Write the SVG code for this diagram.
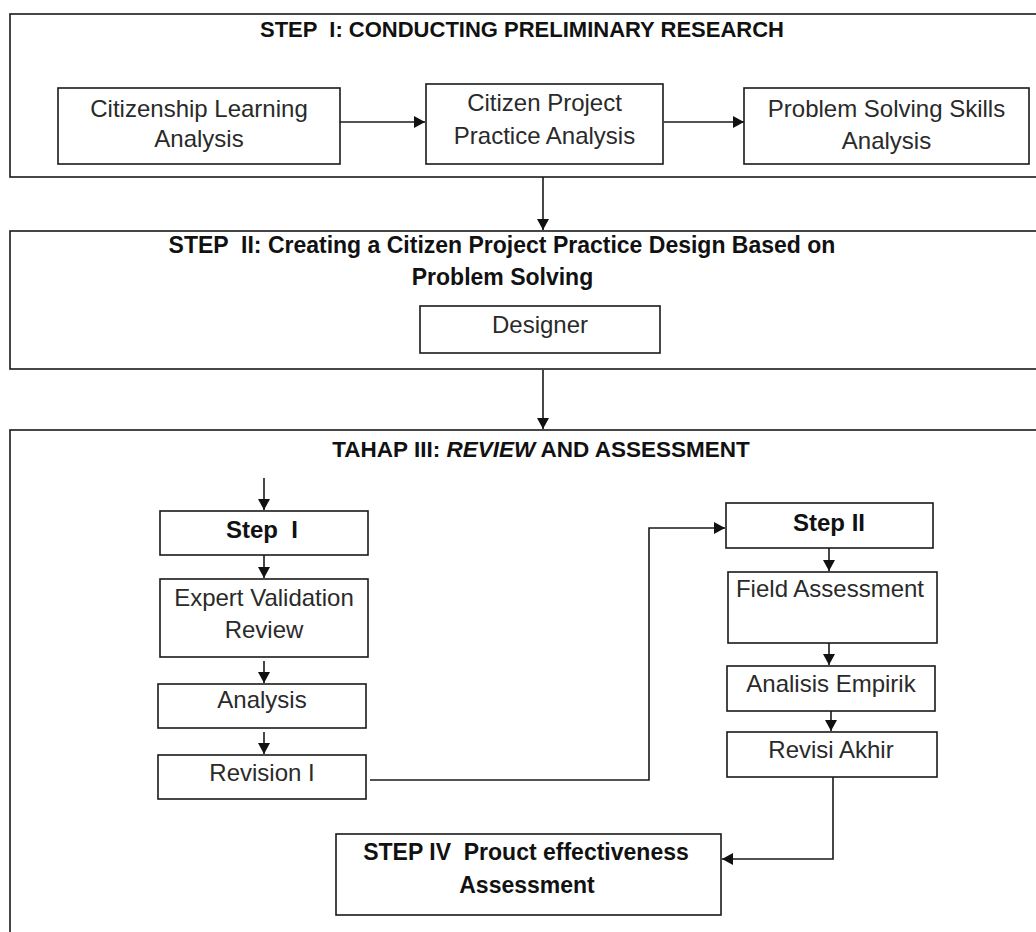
<svg xmlns="http://www.w3.org/2000/svg" width="1036" height="932" viewBox="0 0 1036 932">
<defs>
<marker id="ah" markerUnits="userSpaceOnUse" markerWidth="12" markerHeight="12" refX="11" refY="6" orient="auto"><path d="M0,0 L11,6 L0,12 z" fill="#111"/></marker>
</defs>
<style>
.frame{fill:none;stroke:#1a1a1a;stroke-width:1.6}
.box{fill:#fff;stroke:#1a1a1a;stroke-width:1.6}
.t{font-family:"Liberation Sans",Arial,sans-serif;font-size:24px;fill:#2a2a2a;text-anchor:middle}
.b{font-family:"Liberation Sans",Arial,sans-serif;font-weight:bold;fill:#111;text-anchor:middle;white-space:pre}
.c{fill:none;stroke:#1a1a1a;stroke-width:1.6;marker-end:url(#ah)}
</style>
<rect width="1036" height="932" fill="#fff"/>

<g id="stage1">
<rect class="frame" x="10" y="14" width="1040" height="163"/>
<text class="b" x="522" y="37" font-size="22" xml:space="preserve">STEP  I: CONDUCTING PRELIMINARY RESEARCH</text>
</g>
<g id="stage2">
<rect class="frame" x="10" y="231" width="1040" height="138"/>
<text class="b" x="502" y="253" font-size="23" xml:space="preserve">STEP  II: Creating a Citizen Project Practice Design Based on</text>
<text class="b" x="502.5" y="285" font-size="23">Problem Solving</text>
</g>
<g id="stage3">
<rect class="frame" x="10" y="430" width="1040" height="520"/>
<text class="b" x="541" y="457" font-size="22.5">TAHAP III: <tspan font-style="italic">REVIEW</tspan> AND ASSESSMENT</text>
</g>

<g id="connectors">
<path class="c" d="M340,122 H425"/>
<path class="c" d="M664,122 H744"/>
<path class="c" d="M543,177 V230"/>
<path class="c" d="M543,370 V429"/>
<path class="c" d="M264,478 V510"/>
<path class="c" d="M264,555 V578"/>
<path class="c" d="M264,661 V683"/>
<path class="c" d="M264,732 V754"/>
<path class="c" d="M370,780 H649 V528 H725"/>
<path class="c" d="M829,548 V571"/>
<path class="c" d="M829,643 V665"/>
<path class="c" d="M831,711 V731"/>
<path class="c" d="M833,777 V859 H722"/>
</g>

<g id="citizenship-learning">
<rect class="box" x="58" y="88" width="282" height="76"/>
<text class="t" x="199" y="117">Citizenship Learning</text>
<text class="t" x="199" y="147">Analysis</text>
</g>
<g id="citizen-project">
<rect class="box" x="426" y="84" width="237" height="80"/>
<text class="t" x="544.5" y="111">Citizen Project</text>
<text class="t" x="544.5" y="144">Practice Analysis</text>
</g>
<g id="problem-solving">
<rect class="box" x="744" y="88" width="285" height="76"/>
<text class="t" x="886.5" y="117">Problem Solving Skills</text>
<text class="t" x="886.5" y="149">Analysis</text>
</g>
<g id="designer">
<rect class="box" x="420" y="306" width="240" height="47"/>
<text class="t" x="540" y="333">Designer</text>
</g>
<g id="step-1">
<rect class="box" x="160" y="511" width="208" height="44"/>
<text class="b" x="262" y="538" font-size="24" xml:space="preserve">Step  I</text>
</g>
<g id="expert-validation">
<rect class="box" x="160" y="579" width="208" height="78"/>
<text class="t" x="264" y="606">Expert Validation</text>
<text class="t" x="264" y="638">Review</text>
</g>
<g id="analysis">
<rect class="box" x="158" y="684" width="208" height="44"/>
<text class="t" x="262" y="708">Analysis</text>
</g>
<g id="revision-1">
<rect class="box" x="158" y="755" width="208" height="44"/>
<text class="t" x="262" y="781">Revision I</text>
</g>
<g id="step-2">
<rect class="box" x="726" y="503" width="207" height="45"/>
<text class="b" x="829" y="531" font-size="24">Step II</text>
</g>
<g id="field-assessment">
<rect class="box" x="728" y="572" width="209" height="71"/>
<text class="t" x="830" y="597">Field Assessment</text>
</g>
<g id="analisis-empirik">
<rect class="box" x="727" y="666" width="208" height="45"/>
<text class="t" x="831" y="692">Analisis Empirik</text>
</g>
<g id="revisi-akhir">
<rect class="box" x="727" y="732" width="210" height="45"/>
<text class="t" x="831" y="758">Revisi Akhir</text>
</g>
<g id="step-4">
<rect class="box" x="336" y="834" width="385" height="81"/>
<text class="b" x="526" y="860" font-size="23" xml:space="preserve">STEP IV  Prouct effectiveness</text>
<text class="b" x="527" y="893" font-size="23">Assessment</text>
</g>
</svg>
